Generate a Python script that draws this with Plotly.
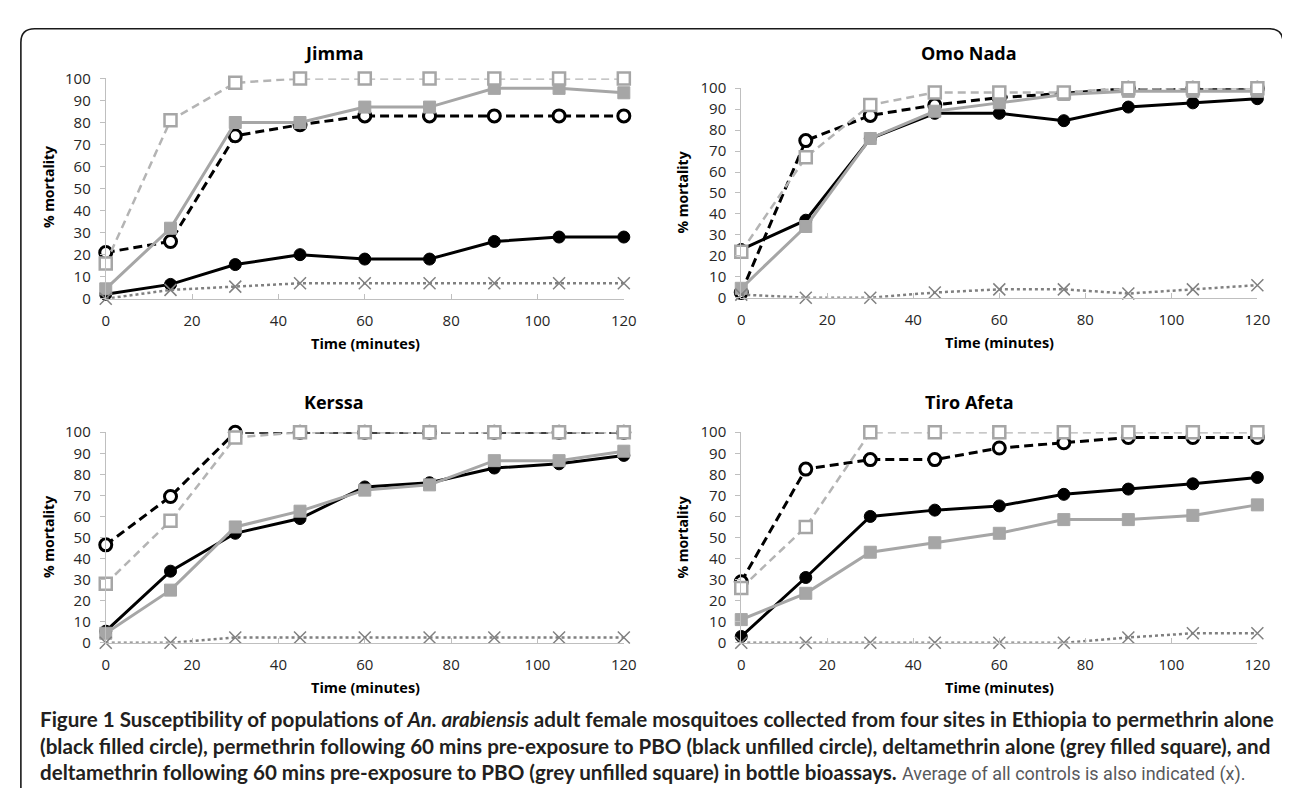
import plotly.graph_objects as go

W, H = 1290, 788

time_min = [0, 15, 30, 45, 60, 75, 90, 105, 120]
sites = ["Jimma", "Omo Nada", "Kerssa", "Tiro Afeta"]

perm_alone = {
    "Jimma":      [2, 6.5, 15.5, 20, 18, 18, 26, 28, 28],
    "Omo Nada":   [23, 37, 76, 88, 88, 84.5, 91, 93, 95],
    "Kerssa":     [5.5, 34, 52, 59, 74, 76, 83, 85, 89],
    "Tiro Afeta": [3, 31, 60, 63, 65, 70.5, 73, 75.5, 78.5],
}
perm_pbo = {
    "Jimma":      [21, 26, 74, 79, 83, 83, 83, 83, 83],
    "Omo Nada":   [2.5, 75, 87, 92, 95.5, 97.5, 100, 100, 100],
    "Kerssa":     [46.5, 69.5, 100, 100, 100, 100, 100, 100, 100],
    "Tiro Afeta": [29, 82.5, 87, 87, 92.5, 95, 97.5, 97.5, 97.5],
}
delta_alone = {
    "Jimma":      [4.5, 32, 80, 80, 87, 87, 95.5, 95.5, 93.5],
    "Omo Nada":   [4.5, 34, 76, 89, 93, 97, 98.5, 98.5, 98.5],
    "Kerssa":     [4.5, 25, 55, 62.5, 72.5, 75, 86.5, 86.5, 91],
    "Tiro Afeta": [11, 23.5, 43, 47.5, 52, 58.5, 58.5, 60.5, 65.5],
}
delta_pbo = {
    "Jimma":      [16, 81, 98, 100, 100, 100, 100, 100, 100],
    "Omo Nada":   [22, 67, 92, 98, 98, 98, 100, 100, 100],
    "Kerssa":     [28, 58, 97.5, 100, 100, 100, 100, 100, 100],
    "Tiro Afeta": [26, 55, 100, 100, 100, 100, 100, 100, 100],
}
control = {
    "Jimma":      [0, 4, 5.5, 7, 7, 7, 7, 7, 7],
    "Omo Nada":   [1.5, 0, 0, 2.5, 4, 4, 2, 4, 6],
    "Kerssa":     [0, 0, 2.5, 2.5, 2.5, 2.5, 2.5, 2.5, 2.5],
    "Tiro Afeta": [0, 0, 0, 0, 0, 0, 2.5, 4.5, 4.5],
}

x_ticks = [0, 20, 40, 60, 80, 100, 120]
y_ticks = list(range(0, 101, 10))

caption_lines = [
    "<b>Figure 1 Susceptibility of populations of <i>An. arabiensis</i> adult female mosquitoes collected from four sites in Ethiopia to permethrin alone</b>",
    "<b>(black filled circle), permethrin following 60 mins pre-exposure to PBO (black unfilled circle), deltamethrin alone (grey filled square), and</b>",
    "<b>deltamethrin following 60 mins pre-exposure to PBO (grey unfilled square) in bottle bioassays.</b>",
]
caption_tail = "Average of all controls is also indicated (x)."

# ---- layout geometry (pixels) ----
def px_x(p):
    return p / W

def px_y(p):
    return 1 - p / H

panels = {
    "Jimma":      dict(x=(95, 620), y=(287, 61), title=(326, 35), ylab=(37, 173), xlab=(358, 333)),
    "Omo Nada":   dict(x=(739, 1262), y=(286, 71), title=(970, 35), ylab=(679, 178), xlab=(1001, 332)),
    "Kerssa":     dict(x=(95, 620), y=(640, 424), title=(326, 393), ylab=(37, 532), xlab=(358, 686)),
    "Tiro Afeta": dict(x=(739, 1262), y=(640, 424), title=(970, 393), ylab=(679, 532), xlab=(1001, 686)),
}

BLACK = "#000000"
GREY = "#a6a6a6"
CTRL = "#808080"
AXIS = "#bfbfbf"
TICKFONT = dict(family="Open Sans, Liberation Sans, sans-serif", size=15, color="#262626")
BOLDFONT = "Open Sans, Liberation Sans, sans-serif"

fig = go.Figure()
layout_axes = {}
annotations = []

for i, site in enumerate(sites, start=1):
    xa = "x" if i == 1 else f"x{i}"
    ya = "y" if i == 1 else f"y{i}"
    p = panels[site]

    fig.add_trace(go.Scatter(
        x=time_min, y=perm_alone[site], xaxis=xa, yaxis=ya, mode="lines+markers",
        line=dict(color=BLACK, width=3),
        marker=dict(symbol="circle", size=12, color=BLACK, line=dict(color=BLACK, width=1)),
        showlegend=False, cliponaxis=False))
    fig.add_trace(go.Scatter(
        x=time_min, y=perm_pbo[site], xaxis=xa, yaxis=ya, mode="lines+markers",
        line=dict(color=BLACK, width=3, dash="9px,5px"),
        marker=dict(symbol="circle", size=12, color="white", line=dict(color=BLACK, width=3)),
        showlegend=False, cliponaxis=False))
    fig.add_trace(go.Scatter(
        x=time_min, y=delta_alone[site], xaxis=xa, yaxis=ya, mode="lines+markers",
        line=dict(color=GREY, width=3),
        marker=dict(symbol="square", size=12, color=GREY, line=dict(color=GREY, width=1)),
        showlegend=False, cliponaxis=False))
    fig.add_trace(go.Scatter(
        x=time_min, y=delta_pbo[site], xaxis=xa, yaxis=ya, mode="lines+markers",
        line=dict(color="#b4b4b4", width=2.5, dash="8px,5px"),
        marker=dict(symbol="square", size=12, color="white", line=dict(color=GREY, width=2.5)),
        showlegend=False, cliponaxis=False))
    fig.add_trace(go.Scatter(
        x=time_min, y=control[site], xaxis=xa, yaxis=ya, mode="lines+markers",
        line=dict(color=CTRL, width=2.5, dash="dot"),
        marker=dict(symbol="x-thin", size=12, color=CTRL, line=dict(color=CTRL, width=1.5)),
        showlegend=False, cliponaxis=False))

    xkey = "xaxis" if i == 1 else f"xaxis{i}"
    ykey = "yaxis" if i == 1 else f"yaxis{i}"
    layout_axes[xkey] = dict(
        domain=[px_x(p["x"][0]), px_x(p["x"][1])], range=[0, 120], anchor=ya,
        tickvals=x_ticks, ticktext=[str(v) for v in x_ticks],
        showgrid=False, zeroline=False, showline=True, linecolor=AXIS, linewidth=1,
        ticks="inside", ticklen=5, tickcolor=AXIS, tickfont=TICKFONT, ticklabelstandoff=8)
    layout_axes[ykey] = dict(
        domain=[px_y(p["y"][0]), px_y(p["y"][1])], range=[0, 100], anchor=xa,
        tickvals=y_ticks, ticktext=[str(v) for v in y_ticks],
        showgrid=False, zeroline=False, showline=True, linecolor=AXIS, linewidth=1,
        ticks="outside", ticklen=5, tickcolor=AXIS, tickfont=TICKFONT, ticklabelstandoff=6)

    annotations.append(dict(text=f"<b>{site}</b>", x=px_x(p["title"][0]), y=px_y(p["title"][1]),
                            xref="paper", yref="paper", showarrow=False, xanchor="center", yanchor="middle",
                            font=dict(family=BOLDFONT, size=18, color="#000000")))
    annotations.append(dict(text="<b>% mortality</b>", x=px_x(p["ylab"][0]), y=px_y(p["ylab"][1]),
                            xref="paper", yref="paper", showarrow=False, xanchor="center", yanchor="middle",
                            textangle=-90, font=dict(family=BOLDFONT, size=14, color="#000000")))
    annotations.append(dict(text="<b>Time (minutes)</b>", x=px_x(p["xlab"][0]), y=px_y(p["xlab"][1]),
                            xref="paper", yref="paper", showarrow=False, xanchor="center", yanchor="middle",
                            font=dict(family=BOLDFONT, size=14.5, color="#000000")))

CAPFONT = dict(family="Lato, Open Sans, sans-serif", size=20.6, color="#231f20")
cap_y = [718, 746, 773]
for k, line in enumerate(caption_lines):
    txt = line
    if k == 2:
        txt = line + " <span style='font-family:Liberation Sans Narrow, Roboto, sans-serif;font-size:18px;color:#58595b;font-weight:normal'>" + caption_tail + "</span>"
    annotations.append(dict(text=txt, x=px_x(26), y=px_y(cap_y[k]), xref="paper", yref="paper",
                            showarrow=False, xanchor="left", yanchor="middle", align="left", font=CAPFONT))

# rounded border (top corners rounded, open at bottom)
r = 14
L, R, T, B = 9, 1288, 10, 800
path = (f"M {px_x(L)},{px_y(B)} L {px_x(L)},{px_y(T + r)} "
        f"Q {px_x(L)},{px_y(T)} {px_x(L + r)},{px_y(T)} "
        f"L {px_x(R - r)},{px_y(T)} Q {px_x(R)},{px_y(T)} {px_x(R)},{px_y(T + r)} "
        f"L {px_x(R)},{px_y(B)}")

fig.update_layout(
    width=W, height=H, margin=dict(l=0, r=0, t=0, b=0),
    paper_bgcolor="white", plot_bgcolor="white",
    annotations=annotations,
    shapes=[dict(type="path", path=path, xref="paper", yref="paper",
                 line=dict(color="#1a1a1a", width=1.6))],
    **layout_axes,
)

fig.write_html("out.html")
